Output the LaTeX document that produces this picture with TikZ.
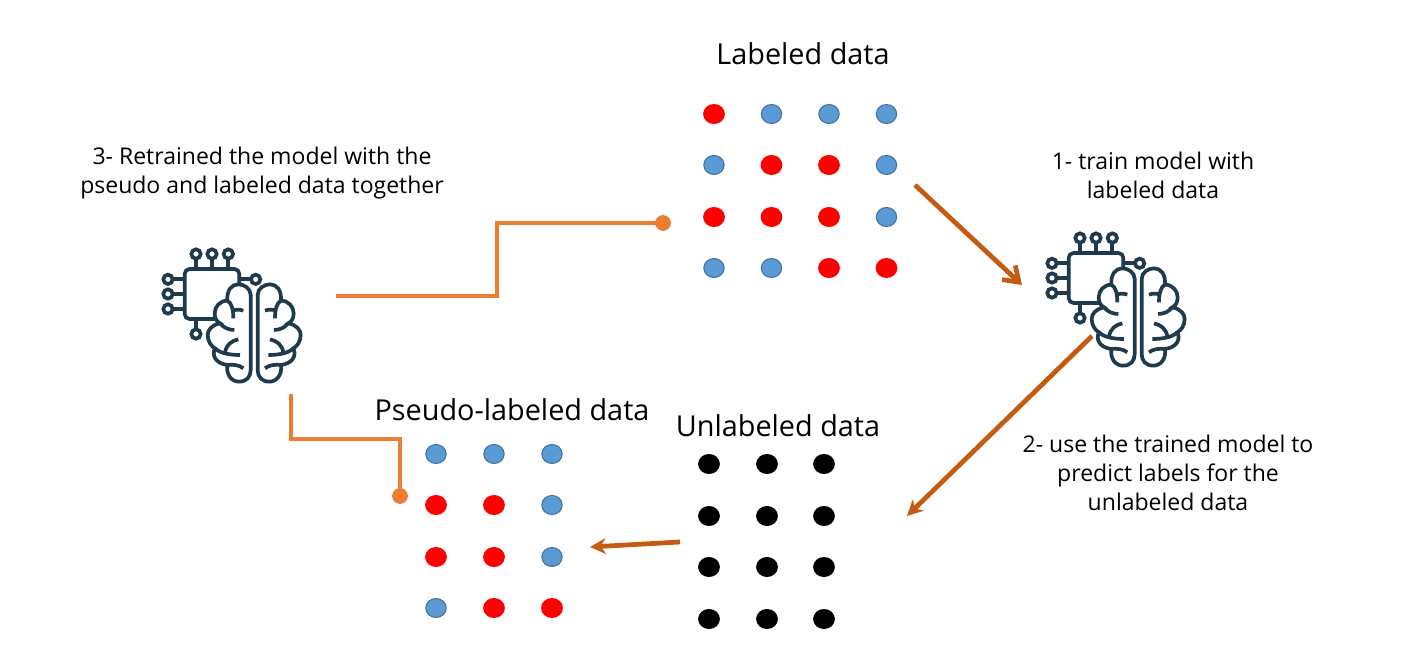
\documentclass[tikz,border=0pt]{standalone}
\usepackage{fontspec}
\setmainfont{Open Sans}
\usetikzlibrary{arrows.meta,shapes.geometric}
\definecolor{dotblue}{HTML}{5B9BD5}
\definecolor{dotedge}{HTML}{41719C}
\definecolor{linkorange}{HTML}{ED7D31}
\definecolor{arrowbrown}{HTML}{C55A11}
\definecolor{iconink}{HTML}{1D3B4C}
\newcommand{\halfbrain}{%
  \draw[fill=white] (332,195) .. controls (332,175) and (312,163) .. (295,163)
    .. controls (275,163) and (260,180) .. (262,212)
    .. controls (240,212) and (224,230) .. (224,250)
    .. controls (224,265) and (230,275) .. (240,280)
    .. controls (215,285) and (203,300) .. (203,315)
    .. controls (203,335) and (215,350) .. (225,355)
    .. controls (215,375) and (225,400) .. (262,405)
    .. controls (258,435) and (275,455) .. (297,455)
    .. controls (320,455) and (332,440) .. (332,420) -- cycle;
  \draw (262,212) .. controls (275,218) and (280,240) .. (280,265);
  \draw (278,242) .. controls (288,238) and (300,238) .. (310,242);
  \draw (240,280) .. controls (250,292) and (265,300) .. (283,300);
  \draw (225,355) .. controls (240,370) and (270,375) .. (300,375);
  \draw (255,368) .. controls (258,345) and (275,332) .. (295,328);
  \draw (262,405) .. controls (280,403) and (298,405) .. (310,415);
}
\tikzset{
  dotB/.style={ellipse,draw=dotedge,line width=0.6pt,fill=dotblue,minimum width=11.6pt,minimum height=10.8pt,inner sep=0pt},
  dotR/.style={ellipse,fill=red,minimum width=12.4pt,minimum height=11.4pt,inner sep=0pt},
  dotK/.style={ellipse,fill=black,minimum width=12.4pt,minimum height=11.4pt,inner sep=0pt},
  dotend/.style={circle,fill=linkorange,minimum size=9pt,inner sep=0pt},
  linkline/.style={draw=linkorange,line width=2.4pt},
  flowline/.style={draw=arrowbrown,line width=2.7pt},
  headline/.style={font=\fontsize{16.4}{19}\selectfont},
  stepnote/.style={font=\fontsize{13.1}{16.5}\selectfont,align=center},
  brainchip/.pic={
    \begin{scope}[iconink,line width=2.1pt]
      \draw[rounded corners=2.8pt] (298,165) -- (298,117) -- (134,117) -- (134,267) -- (225,267);
      \foreach \px in {168,216,265} {
        \draw (\px,86) -- (\px,117);
        \draw (\px,72) circle [radius=14];
      }
      \foreach \py in {148,192,237} {
        \draw (98,\py) -- (134,\py);
        \draw (84,\py) circle [radius=14];
      }
      \draw (298,148) -- (333,148);
      \draw (347,148) circle [radius=14];
      \draw (168,267) -- (168,298);
      \draw (168,312) circle [radius=14];
      \halfbrain
      \begin{scope}[shift={(685,0)},xscale=-1]
        \halfbrain
      \end{scope}
    \end{scope}
  }
}
\begin{document}
\begin{tikzpicture}[x=0.02cm,y=-0.02cm]
  \useasboundingbox (0,0) rectangle (1414,668);

  % titles and step notes
  \node[headline] (labeledtitle) at (803,54) {Labeled data};
  \node[headline] (pseudotitle) at (512,410) {Pseudo-labeled data};
  \node[headline] (unlabeledtitle) at (778,426) {Unlabeled data};
  \node[stepnote] (stepone) at (1153,175) {1- train model with\\labeled data};
  \node[stepnote] (steptwo) at (1168,473) {2- use the trained model to\\predict labels for the\\unlabeled data};
  \node[stepnote] (stepthree) at (262,173) {3- Retrained the model with the\\pseudo and labeled data together};

  % dot grids
  \foreach \cy/\row [count=\j] in {114/{R,B,B,B},165/{B,R,R,B},217/{R,R,R,B},268/{B,B,R,R}}
    \foreach \kind [count=\i] in \row {
      \pgfmathsetmacro{\cx}{714+57.5*(\i-1)}
      \node[dot\kind] (lab\j\i) at (\cx,\cy) {};
    }
  \foreach \cy/\row [count=\j] in {454/{B,B,B},505/{R,R,B},557/{R,R,B},608/{B,R,R}}
    \foreach \kind [count=\i] in \row {
      \pgfmathsetmacro{\cx}{436+58*(\i-1)}
      \node[dot\kind] (pse\j\i) at (\cx,\cy) {};
    }
  \foreach \cy [count=\j] in {464,516,567,619}
    \foreach \cx [count=\i] in {709,767,824}
      \node[dotK] (unl\j\i) at (\cx,\cy) {};

  % the two model icons
  \pic (modelleft) at (140,230) [scale=1/3] {brainchip};
  \pic (modelright) at (1024,214) [scale=1/3] {brainchip};

  % connectors
  \node[dotend] (endlab) at (663,223) {};
  \node[dotend] (endpse) at (400,496) {};
  \coordinate (leftout) at (336,296);
  \coordinate (leftdown) at (291,394);
  \coordinate (kneelab) at (497,223);
  \coordinate (kneepse) at (400,439);
  \draw[linkline] (leftout) -| (kneelab) -- (endlab.center);
  \draw[linkline] (leftdown) |- (kneepse) -- (endpse.center);

  \coordinate (gridout) at (915,185);
  \coordinate (modelin) at (1022,285);
  \coordinate (modelout) at (1092,336);
  \coordinate (unlin) at (907,516);
  \coordinate (unlout) at (680,542);
  \coordinate (psein) at (590,547);
  \draw[flowline,-{Straight Barb[length=8pt,width=11pt]}] (gridout) -- (modelin);
  \draw[flowline,-{Stealth[length=9pt,width=9pt]}] (modelout) -- (unlin);
  \draw[flowline,-{Stealth[length=9pt,width=9pt]}] (unlout) -- (psein);
\end{tikzpicture}
\end{document}
